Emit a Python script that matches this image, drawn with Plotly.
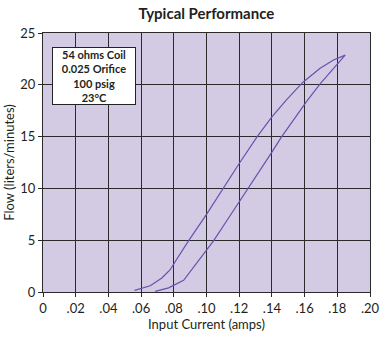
import plotly.graph_objects as go

# Flow vs. input current, hysteresis loop (decreasing / increasing current)
current_down = [0.056, 0.0656, 0.0727, 0.0778, 0.0809, 0.089, 0.100, 0.110,
                0.120, 0.131, 0.140, 0.1489, 0.159, 0.1695, 0.1777, 0.1848]
flow_down = [0.15, 0.6, 1.35, 2.15, 2.95, 4.94, 7.5, 10.0,
             12.4, 15.0, 16.9, 18.55, 20.25, 21.6, 22.4, 22.86]

current_up = [0.0686, 0.0768, 0.086, 0.100, 0.1043, 0.1129, 0.1196, 0.1257,
              0.1396, 0.146, 0.1532, 0.1617, 0.1695, 0.1777, 0.1848]
flow_up = [0.06, 0.4, 1.12, 4.07, 4.94, 7.0, 8.6, 10.0,
           13.4, 15.0, 16.6, 18.5, 20.1, 21.6, 22.86]

x_ticks = [0, 0.02, 0.04, 0.06, 0.08, 0.10, 0.12, 0.14, 0.16, 0.18, 0.20]
x_tick_labels = ["0", ".02", ".04", ".06", ".08", ".10", ".12", ".14", ".16", ".18", ".20"]
y_ticks = [0, 5, 10, 15, 20, 25]

conditions = ["54 ohms Coil", "0.025 Orifice", "100 psig", "23°C"]

line_color = "#6b50ad"
grid_color = "#2a2a2a"
text_color = "#231f20"
font_family = "Lato, 'Open Sans', sans-serif"

fig = go.Figure()
fig.add_trace(go.Scatter(x=current_down, y=flow_down, mode="lines",
                         line=dict(color=line_color, width=1.2), showlegend=False))
fig.add_trace(go.Scatter(x=current_up, y=flow_up, mode="lines",
                         line=dict(color=line_color, width=1.2), showlegend=False))

fig.add_annotation(
    text="<b>" + "<br>".join(conditions) + "</b>",
    xref="paper", yref="paper", x=0.155, y=0.833,
    xanchor="center", yanchor="middle",
    showarrow=False, align="center",
    font=dict(family=font_family, size=11, color=text_color),
    bgcolor="white", bordercolor="#222", borderwidth=1, borderpad=2,
    width=78, height=52,
)

fig.update_layout(
    width=385, height=339,
    margin=dict(l=43, r=15, t=33, b=47),
    paper_bgcolor="white",
    plot_bgcolor="#d3cbe3",
    font=dict(family=font_family, size=12, color=text_color),
    title=dict(text="<b>Typical Performance</b>", x=0.536, xanchor="center",
               y=0.958, yanchor="middle",
               font=dict(family=font_family, size=15, color=text_color)),
)

fig.update_xaxes(
    range=[0, 0.20], tickvals=x_ticks, ticktext=x_tick_labels,
    showgrid=True, gridcolor=grid_color, gridwidth=1.3,
    zeroline=False, showline=True, linecolor=grid_color, linewidth=1.3, mirror=True,
    ticks="outside", ticklen=4, tickcolor=grid_color, automargin=False,
    title=dict(text="Input Current (amps)", font=dict(size=13), standoff=2),
    tickfont=dict(size=13),
)
fig.update_yaxes(
    range=[0, 25], tickvals=y_ticks,
    showgrid=True, gridcolor=grid_color, gridwidth=1.3,
    zeroline=False, showline=True, linecolor=grid_color, linewidth=1.3, mirror=True,
    ticks="outside", ticklen=4, tickcolor=grid_color, automargin=False,
    title=dict(text="Flow (liters/minutes)", font=dict(size=13), standoff=2),
    tickfont=dict(size=13),
)

fig.write_html("out.html")
